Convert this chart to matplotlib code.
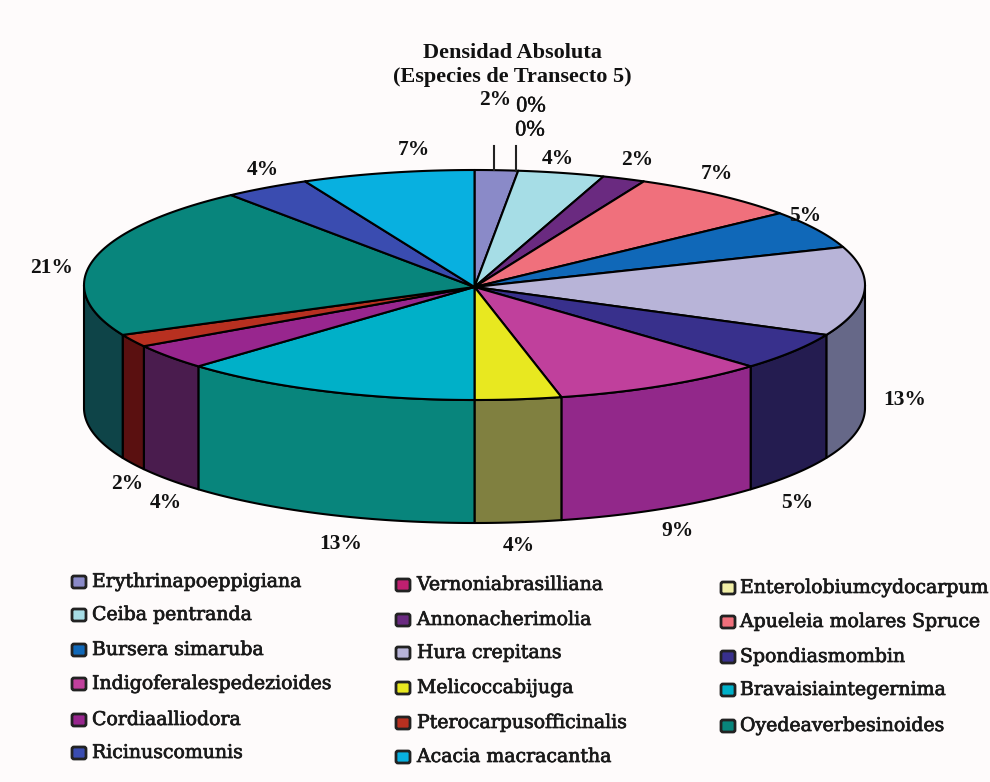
#!/usr/bin/env python3
"""Tarta 3D de densidad absoluta, transecto 5."""
import numpy as np
import matplotlib
matplotlib.use('Agg')
import matplotlib.pyplot as plt
import matplotlib.patheffects as pe
from matplotlib.patches import FancyBboxPatch, Polygon

TITLE = 'Densidad Absoluta\n(Especies de Transecto 5)'

# Species in slice order, clockwise from 12 o'clock
SPECIES = [
    'Erythrinapoeppigiana', 'Vernoniabrasilliana', 'Enterolobiumcydocarpum',
    'Ceiba pentranda', 'Annonacherimolia', 'Apueleia molares Spruce',
    'Bursera simaruba', 'Hura crepitans', 'Spondiasmombin',
    'Indigoferalespedezioides', 'Melicoccabijuga', 'Bravaisiaintegernima',
    'Cordiaalliodora', 'Pterocarpusofficinalis', 'Oyedeaverbesinoides',
    'Ricinuscomunis', 'Acacia macracantha',
]
COUNTS = [1, 0, 0, 2, 1, 4, 3, 7, 3, 5, 2, 7, 2, 1, 12, 2, 4]

TOP_COLORS = [
    '#8A8AC8', '#C02070', '#F2F0A8', '#A6DDE6', '#6A2A80', '#F0707C',
    '#1068B8', '#B8B4D8', '#38308C', '#C0409C', '#E8E820', '#00B0C8',
    '#98268E', '#B83020', '#08857C', '#3A4CB0', '#08B0E0',
]
SIDE_COLORS = [
    '#45456A', '#601038', '#797854', '#537078', '#351540', '#78383E',
    '#083460', '#666888', '#241C50', '#92288A', '#808040', '#08857C',
    '#4A1C4E', '#5A1010', '#0E4448', '#1D2658', '#085870',
]

# Label centres in image pixels, same order as SPECIES
LABEL_XY = [
    (495, 100), (531, 107), (530, 131), (558, 159), (637, 160), (717, 174),
    (805, 216), (905, 400), (797, 503), (677, 531), (519, 546), (341, 544),
    (166, 503), (127, 484), (52, 268), (263, 170), (414, 150),
]

# Legend row centres per column
LEGEND_X = [(71, 92), (395, 417), (720, 740)]
LEGEND_Y = [
    [582, 615, 650, 684, 720, 753],
    [585, 620, 653, 688, 723, 757],
    [588, 622, 657, 690, 726],
]

CX, CY = 474.5, 285
RX, RY = 390.5, 115
DEPTH = 123
BACKGROUND = '#FEFBFB'


def rim(theta):
    """Point on the top ellipse; theta in degrees clockwise from the top."""
    t = np.radians(theta)
    return CX + RX * np.sin(t), CY - RY * np.cos(t)


def draw_pie(ax):
    total = sum(COUNTS)
    edges = np.cumsum([0] + COUNTS) / total * 360

    # Side walls first, only the front half of the cylinder shows
    for i in range(len(COUNTS)):
        a = max(edges[i], 90)
        b = min(edges[i + 1], 270)
        if b <= a:
            continue
        x, y = rim(np.linspace(a, b, 60))
        pts = np.r_[np.c_[x, y], np.c_[x, y + DEPTH][::-1]]
        ax.add_patch(Polygon(pts, closed=True, facecolor=SIDE_COLORS[i],
                             edgecolor='black', linewidth=1.5, joinstyle='round'))

    # Top faces
    for i in range(len(COUNTS)):
        if COUNTS[i] == 0:
            continue
        x, y = rim(np.linspace(edges[i], edges[i + 1], 60))
        pts = np.r_[[[CX, CY + 2]], np.c_[x, y]]
        ax.add_patch(Polygon(pts, closed=True, facecolor=TOP_COLORS[i],
                             edgecolor='black', linewidth=1.5, joinstyle='round'))

    # Leader lines for the crowded labels at the top
    for theta in [(edges[0] + edges[1]) / 2, edges[1]]:
        x, y = rim(theta)
        ax.plot([x - 2, x - 2], [146, y], color='#222222', linewidth=1.5)

    # Percent labels
    for i, (x, y) in enumerate(LABEL_XY):
        pct = int(COUNTS[i] / total * 100 + 0.5)
        t = ax.text(x, y, f'{pct}%', ha='center', va='center', color='#111111',
                    fontsize=15.5, fontweight='bold' if pct > 0 else 'normal',
                    family='Liberation Serif')
        if pct == 0:
            t.set_fontsize(16)
            t.set_path_effects([pe.withStroke(linewidth=0.3, foreground='#111111')])


def draw_legend(ax):
    n_cols = len(LEGEND_X)
    for i, name in enumerate(SPECIES):
        col = i % n_cols
        row = i // n_cols
        box_x, text_x = LEGEND_X[col]
        y = LEGEND_Y[col][row]
        ax.add_patch(FancyBboxPatch((box_x + 1, y - 6), 14, 12,
                                    boxstyle='round,pad=0,rounding_size=2',
                                    facecolor=TOP_COLORS[i], edgecolor='#222222',
                                    linewidth=2))
        t = ax.text(text_x, y, name, ha='left', va='center', color='#1A1A1A',
                    fontsize=13.6, family='DejaVu Serif')
        t.set_path_effects([pe.withStroke(linewidth=0.5, foreground='#1A1A1A')])


def main():
    fig = plt.figure(figsize=(9.9, 7.82), dpi=100, facecolor=BACKGROUND)
    ax = fig.add_axes([0, 0, 1, 1])
    ax.set_xlim(0, 990)
    ax.set_ylim(782, 0)
    ax.axis('off')

    ax.text(512, 65, TITLE, ha='center', va='center', color='#111111', fontsize=16,
            fontweight='bold', family='Liberation Serif', linespacing=1.25)

    draw_pie(ax)
    draw_legend(ax)

    fig.savefig('out.png', dpi=100, facecolor=BACKGROUND)


if __name__ == '__main__':
    main()
